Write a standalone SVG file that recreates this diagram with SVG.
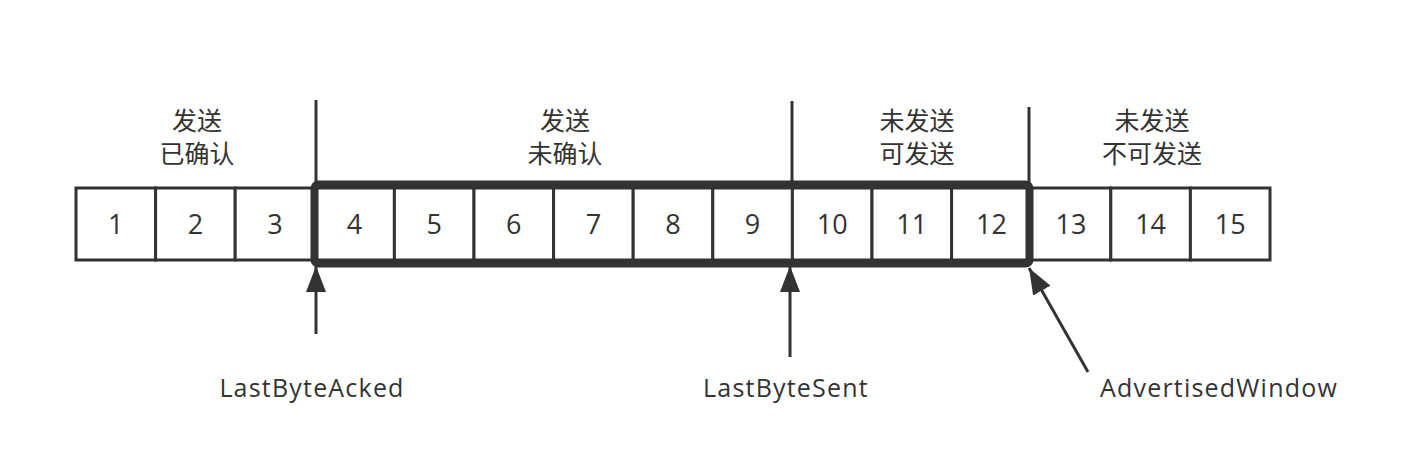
<svg xmlns="http://www.w3.org/2000/svg" width="1418" height="472" viewBox="0 0 1418 472">
<style>
.cell{fill:#fff;stroke:#333;stroke-width:3}
.num{font-family:"Open Sans","Noto Sans CJK SC",sans-serif;font-size:27px;fill:#333;text-anchor:middle}
.lbl{font-family:"Noto Sans CJK SC",sans-serif;font-size:25px;fill:#333;text-anchor:middle}
.ptr{font-family:"Open Sans","Noto Sans CJK SC",sans-serif;font-size:25px;letter-spacing:1.2px;fill:#333;text-anchor:middle}
.ln{stroke:#333;stroke-width:3;fill:none}
</style>
<defs>
<marker id="ah2" viewBox="0 0 26 20" refX="26" refY="10" markerWidth="26" markerHeight="20" markerUnits="userSpaceOnUse" orient="auto">
<path d="M0,0 L26,10 L0,20 Z" fill="#333"/>
</marker>
</defs>
<rect width="1418" height="472" fill="#fff"/>
<g id="cells">
<g id="c1"><rect class="cell" x="76" y="188" width="79.6" height="72"/><text class="num" x="115.8" y="234">1</text></g>
<g id="c2"><rect class="cell" x="155.6" y="188" width="79.6" height="72"/><text class="num" x="195.4" y="234">2</text></g>
<g id="c3"><rect class="cell" x="235.2" y="188" width="79.6" height="72"/><text class="num" x="275" y="234">3</text></g>
<g id="c4"><rect class="cell" x="314.8" y="188" width="79.6" height="72"/><text class="num" x="354.6" y="234">4</text></g>
<g id="c5"><rect class="cell" x="394.4" y="188" width="79.6" height="72"/><text class="num" x="434.2" y="234">5</text></g>
<g id="c6"><rect class="cell" x="474" y="188" width="79.6" height="72"/><text class="num" x="513.8" y="234">6</text></g>
<g id="c7"><rect class="cell" x="553.6" y="188" width="79.6" height="72"/><text class="num" x="593.4" y="234">7</text></g>
<g id="c8"><rect class="cell" x="633.2" y="188" width="79.6" height="72"/><text class="num" x="673" y="234">8</text></g>
<g id="c9"><rect class="cell" x="712.8" y="188" width="79.6" height="72"/><text class="num" x="752.6" y="234">9</text></g>
<g id="c10"><rect class="cell" x="792.4" y="188" width="79.6" height="72"/><text class="num" x="832.2" y="234">10</text></g>
<g id="c11"><rect class="cell" x="872" y="188" width="79.6" height="72"/><text class="num" x="911.8" y="234">11</text></g>
<g id="c12"><rect class="cell" x="951.6" y="188" width="79.6" height="72"/><text class="num" x="991.4" y="234">12</text></g>
<g id="c13"><rect class="cell" x="1031.2" y="188" width="79.6" height="72"/><text class="num" x="1071" y="234">13</text></g>
<g id="c14"><rect class="cell" x="1110.8" y="188" width="79.6" height="72"/><text class="num" x="1150.6" y="234">14</text></g>
<g id="c15"><rect class="cell" x="1190.4" y="188" width="79.6" height="72"/><text class="num" x="1230.2" y="234">15</text></g>
</g>
<g id="window"><rect x="314.5" y="184.5" width="715" height="79" rx="4" fill="none" stroke="#333" stroke-width="8"/></g>
<g id="dividers">
<line class="ln" x1="316" y1="100" x2="316" y2="184"/>
<line class="ln" x1="792" y1="101" x2="792" y2="184"/>
<line class="ln" x1="1029" y1="107" x2="1029" y2="184"/>
</g>
<g id="labels">
<g id="l1"><text class="lbl" x="197" y="130">发送</text><text class="lbl" x="197" y="163">已确认</text></g>
<g id="l2"><text class="lbl" x="565" y="130">发送</text><text class="lbl" x="565" y="163">未确认</text></g>
<g id="l3"><text class="lbl" x="917" y="130">未发送</text><text class="lbl" x="917" y="163">可发送</text></g>
<g id="l4"><text class="lbl" x="1152" y="130">未发送</text><text class="lbl" x="1152" y="163">不可发送</text></g>
</g>
<g id="connectors">
<line class="ln" x1="316" y1="334" x2="316" y2="266" marker-end="url(#ah2)"/>
<line class="ln" x1="790" y1="357" x2="790" y2="266" marker-end="url(#ah2)"/>
<line class="ln" x1="1088" y1="372" x2="1029" y2="268" marker-end="url(#ah2)"/>
</g>
<g id="pointers">
<text class="ptr" x="312" y="397">LastByteAcked</text>
<text class="ptr" x="786" y="397">LastByteSent</text>
<text class="ptr" x="1219" y="397">AdvertisedWindow</text>
</g>
</svg>
